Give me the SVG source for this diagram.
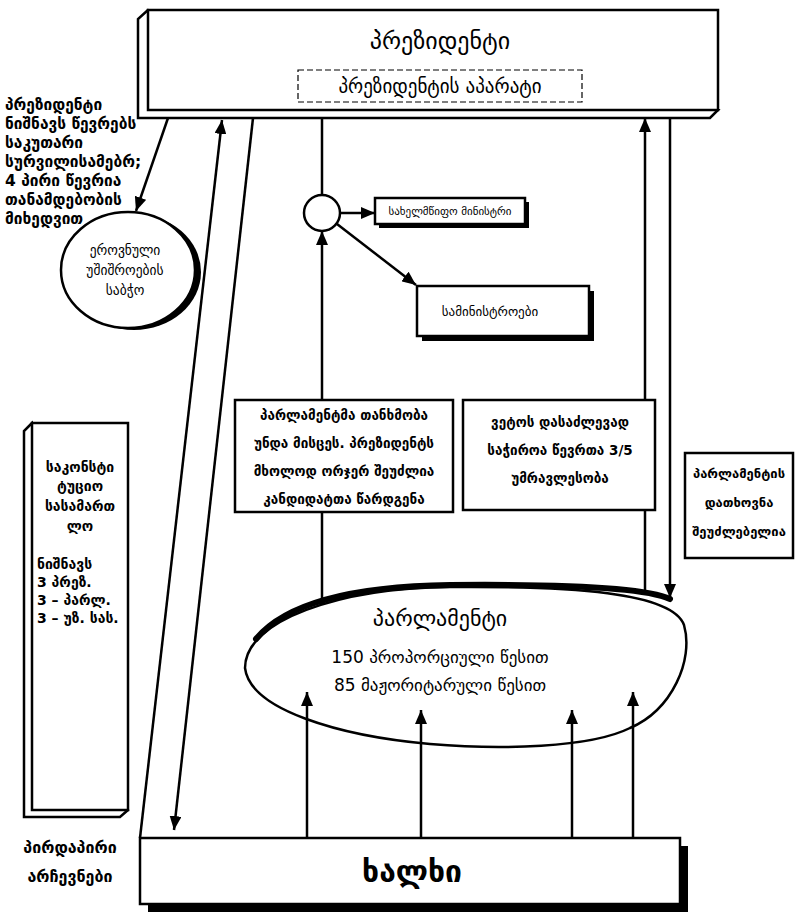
<svg xmlns="http://www.w3.org/2000/svg" width="797" height="913" viewBox="0 0 797 913">
<style>
text{font-family:"DejaVu Sans","Noto Sans",sans-serif;fill:#000}
.b{font-weight:bold}
.box{fill:#fff;stroke:#000;stroke-width:2.5}
.ln{stroke:#000;stroke-width:2.5;fill:none}
.sh{fill:#000}
.c{text-anchor:middle}
</style>
<defs>
<marker id="ah" viewBox="0 0 14 12" refX="14" refY="6" markerWidth="14" markerHeight="12" markerUnits="userSpaceOnUse" orient="auto">
<path d="M0,0 L14,6 L0,12 Z" fill="#000"/>
</marker>
</defs>
<rect width="797" height="913" fill="#fff"/>

<g id="president">
<polygon class="box" points="148,10 138,19 138,118 710,118 718,110"/>
<rect class="box" x="148" y="10" width="570" height="100"/>
<text class="c" x="440" y="49" font-size="24">პრეზიდენტი</text>
<rect x="298" y="70" width="284" height="32" fill="#fff" stroke="#000" stroke-width="1.2" stroke-dasharray="6,3"/>
<text class="c" x="440" y="93" font-size="19">პრეზიდენტის აპარატი</text>
</g>

<g id="note-president" class="b" font-size="15.5">
<text x="5" y="110">პრეზიდენტი</text>
<text x="5" y="129">ნიშნავს წევრებს</text>
<text x="5" y="148">საკუთარი</text>
<text x="5" y="167">სურვილისამებრ;</text>
<text x="5" y="186">4 პირი წევრია</text>
<text x="5" y="205">თანამდებობის</text>
<text x="5" y="224">მიხედვით</text>
</g>

<g id="nsc">
<ellipse class="sh" cx="134" cy="272" rx="67" ry="58"/>
<ellipse class="box" cx="128" cy="270" rx="67" ry="58"/>
<text class="c" x="125" y="255" font-size="13.5">ეროვნული</text>
<text class="c" x="125" y="275" font-size="13.5">უშიშროების</text>
<text class="c" x="125" y="295" font-size="13.5">საბჭო</text>
</g>

<g id="hub">
<circle class="box" cx="322" cy="213" r="18"/>
</g>

<g id="state-minister">
<rect class="sh" x="379" y="202" width="150" height="26"/>
<rect class="box" x="375" y="198" width="150" height="26"/>
<text class="c" x="450" y="215" font-size="11">სახელმწიფო მინისტრი</text>
</g>

<g id="ministries">
<rect class="sh" x="422" y="291" width="172" height="50"/>
<rect class="box" x="417" y="286" width="172" height="50"/>
<text class="c" x="490" y="316" font-size="13">სამინისტროები</text>
</g>

<g id="consent">
<rect class="box" x="235" y="400" width="218" height="112"/>
<g class="b c" font-size="13.5">
<text x="344" y="420">პარლამენტმა თანხმობა</text>
<text x="344" y="448">უნდა მისცეს. პრეზიდენტს</text>
<text x="344" y="476">მხოლოდ ორჯერ შეუძლია</text>
<text x="344" y="504">კანდიდატთა წარდგენა</text>
</g>
</g>

<g id="veto">
<rect class="box" x="463" y="400" width="192" height="110"/>
<g class="b c" font-size="13.5">
<text x="560" y="427">ვეტოს დასაძლევად</text>
<text x="560" y="455">საჭიროა წევრთა 3/5</text>
<text x="560" y="483">უმრავლესობა</text>
</g>
</g>

<g id="dissolution">
<rect class="box" x="685" y="453" width="108" height="105"/>
<g class="b c" font-size="13">
<text x="739" y="478">პარლამენტის</text>
<text x="739" y="507">დათხოვნა</text>
<text x="739" y="536">შეუძლებელია</text>
</g>
</g>

<g id="court">
<polygon class="box" points="32,423 24,431 24,817 120,817 128,810"/>
<rect class="box" x="32" y="423" width="96" height="387"/>
<g class="b" font-size="14">
<text class="c" x="80" y="472">საკონსტი</text>
<text class="c" x="80" y="491">ტუციო</text>
<text class="c" x="80" y="511">სასამართ</text>
<text class="c" x="80" y="531">ლო</text>
<text x="37" y="569">ნიშნავს</text>
<text x="37" y="587">3 პრეზ.</text>
<text x="37" y="605">3 – პარლ.</text>
<text x="37" y="623">3 – უზ. სას.</text>
</g>
</g>

<g id="parliament">
<path d="M245,668 C245,620 340,588 450,587 C570,586 672,592 684,625 C694,660 672,710 630,728 C590,748 500,750 430,744 C340,736 250,710 245,668 Z" fill="#fff" stroke="#000" stroke-width="2.5"/>
<path d="M256,641 C290,600 370,588 450,587 C560,586 645,589 670,601" transform="translate(0,-2)" fill="none" stroke="#000" stroke-width="6" stroke-linecap="round"/>
<text class="c" x="440" y="626" font-size="22">პარლამენტი</text>
<text class="c" x="440" y="663" font-size="17">150 პროპორციული წესით</text>
<text class="c" x="440" y="691" font-size="17">85 მაჟორიტარული წესით</text>
</g>

<g id="people">
<rect class="sh" x="148" y="846" width="540" height="66"/>
<rect class="box" x="140" y="838" width="540" height="66"/>
<text class="c b" x="412" y="882" font-size="30">ხალხი</text>
</g>

<g id="note-direct" class="b c" font-size="16">
<text x="70" y="853">პირდაპირი</text>
<text x="70" y="882">არჩევნები</text>
</g>

<g id="connectors" class="ln">
<line x1="168" y1="118" x2="136" y2="211" marker-end="url(#ah)"/>
<line x1="140" y1="838" x2="222" y2="120" marker-end="url(#ah)"/>
<line x1="253" y1="118" x2="174" y2="830" marker-end="url(#ah)"/>
<line x1="322" y1="118" x2="322" y2="195"/>
<line x1="340" y1="213" x2="375" y2="213" marker-end="url(#ah)"/>
<line x1="337" y1="224" x2="416" y2="285" marker-end="url(#ah)"/>
<line x1="322" y1="400" x2="322" y2="231" marker-end="url(#ah)"/>
<line x1="322" y1="512" x2="322" y2="604"/>
<line x1="645" y1="594" x2="645" y2="510"/>
<line x1="645" y1="400" x2="645" y2="118" marker-end="url(#ah)"/>
<line x1="670" y1="118" x2="670" y2="598" marker-end="url(#ah)"/>
<line x1="307" y1="838" x2="307" y2="692" marker-end="url(#ah)"/>
<line x1="421" y1="838" x2="421" y2="710" marker-end="url(#ah)"/>
<line x1="572" y1="838" x2="572" y2="710" marker-end="url(#ah)"/>
<line x1="633" y1="838" x2="633" y2="692" marker-end="url(#ah)"/>
</g>
</svg>
